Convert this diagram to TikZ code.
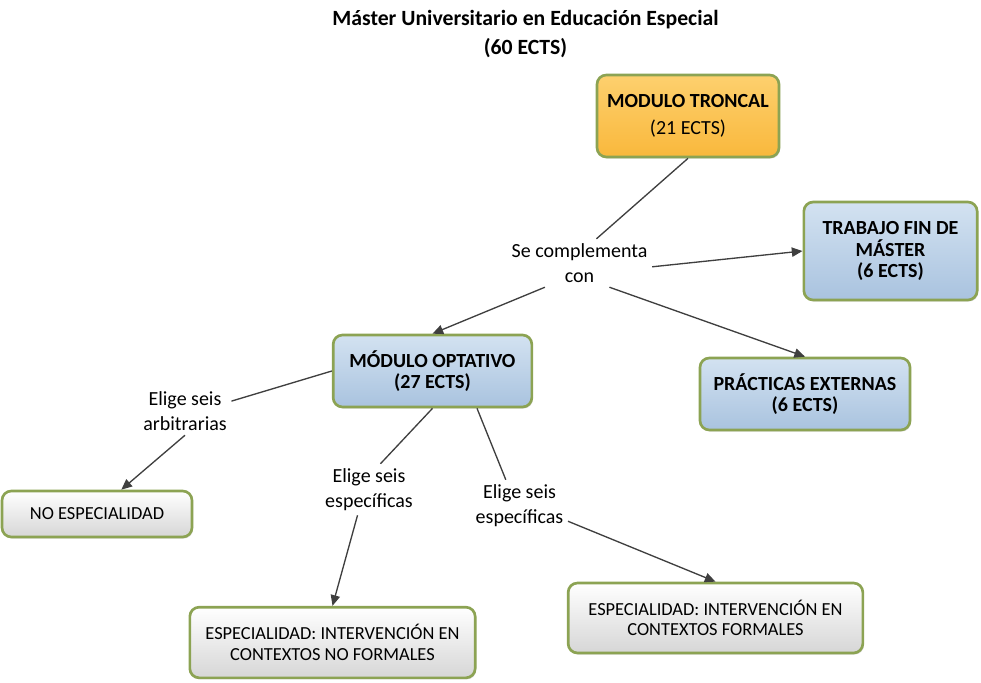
\documentclass[tikz,border=0pt]{standalone}
\usepackage{fontspec}
\setmainfont{Carlito}
\usetikzlibrary{shadows,arrows.meta}
\definecolor{boxline}{HTML}{8CA353}
\definecolor{linkgray}{HTML}{3F3F3F}
\definecolor{orangetop}{HTML}{FDD06E}
\definecolor{orangebot}{HTML}{F9B83C}
\definecolor{bluetop}{HTML}{D3E2F1}
\definecolor{bluebot}{HTML}{A9C3DF}
\definecolor{graybot}{HTML}{D6D6D6}
\begin{document}
\begin{tikzpicture}[x=0.75pt, y=-0.75pt,
  every node/.style={font=\fontsize{15}{18.75}\selectfont, align=center},
  box/.style={draw=boxline, line width=2pt, rounded corners=7pt, inner sep=0pt,
    drop shadow={opacity=0.25, shadow xshift=0.8pt, shadow yshift=-1.2pt}},
  orangebox/.style={box, top color=orangetop, bottom color=orangebot},
  bluebox/.style={box, top color=bluetop, bottom color=bluebot, font=\fontsize{15}{16}\selectfont\bfseries},
  graybox/.style={box, top color=white, bottom color=graybot, font=\fontsize{13.8}{15.5}\selectfont},
  link/.style={draw=linkgray, line width=1pt},
  arrow/.style={link, -{Triangle[length=8pt, width=7pt]}}]
  \useasboundingbox (0,0) rectangle (981,682);

  \node[font=\fontsize{16.3}{21.75}\selectfont\bfseries] (title) at (525.5,34) {Máster Universitario en Educación Especial\\(60 ECTS)};

  \node[orangebox, minimum width=136.5pt, minimum height=61.5pt] (troncal) at (688,116) {\textbf{MODULO TRONCAL}\\[1.5pt](21 ECTS)};
  \node[bluebox, minimum width=130pt, minimum height=73.5pt] (tfm) at (890.5,251) {TRABAJO FIN DE\\MÁSTER\\(6 ECTS)};
  \node[bluebox, minimum width=149pt, minimum height=54pt] (optativo) at (432.5,371) {MÓDULO OPTATIVO\\(27 ECTS)};
  \node[bluebox, minimum width=157.5pt, minimum height=54pt] (practicas) at (805,394) {PRÁCTICAS EXTERNAS\\(6 ECTS)};
  \node[graybox, minimum width=142.5pt, minimum height=34.5pt] (noesp) at (97,514) {NO ESPECIALIDAD};
  \node[graybox, minimum width=214pt, minimum height=53pt] (noformal) at (332.5,642.5) {ESPECIALIDAD: INTERVENCIÓN EN\\CONTEXTOS NO FORMALES};
  \node[graybox, minimum width=221pt, minimum height=52.5pt] (formal) at (715.5,618) {ESPECIALIDAD: INTERVENCIÓN EN\\CONTEXTOS FORMALES};

  \node (complementa) at (579.5,263) {Se complementa\\con};
  \node (arbitrarias) at (185,411) {Elige seis\\arbitrarias};
  \node (especificasA) at (369,489.5) {Elige seis\\específicas};
  \node (especificasB) at (519.5,505.5) {Elige seis\\específicas};

  \draw[link] (troncal.south) -- (complementa.55);
  \draw[arrow] (complementa.-3) -- (tfm.west);
  \draw[arrow] (complementa.-39) -- (practicas.north);
  \draw[arrow] (complementa.215) -- (optativo.north);
  \draw[link] (optativo.west) -- (arbitrarias.12);
  \draw[arrow] (arbitrarias.south) -- (noesp.45);
  \draw[link] (optativo.south) -- (especificasA.66);
  \draw[arrow] (especificasA.-114) -- (noformal.north);
  \draw[link] (optativo.-40) -- (especificasB.118);
  \draw[arrow] (especificasB.-18) -- (formal.north);
\end{tikzpicture}
\end{document}
